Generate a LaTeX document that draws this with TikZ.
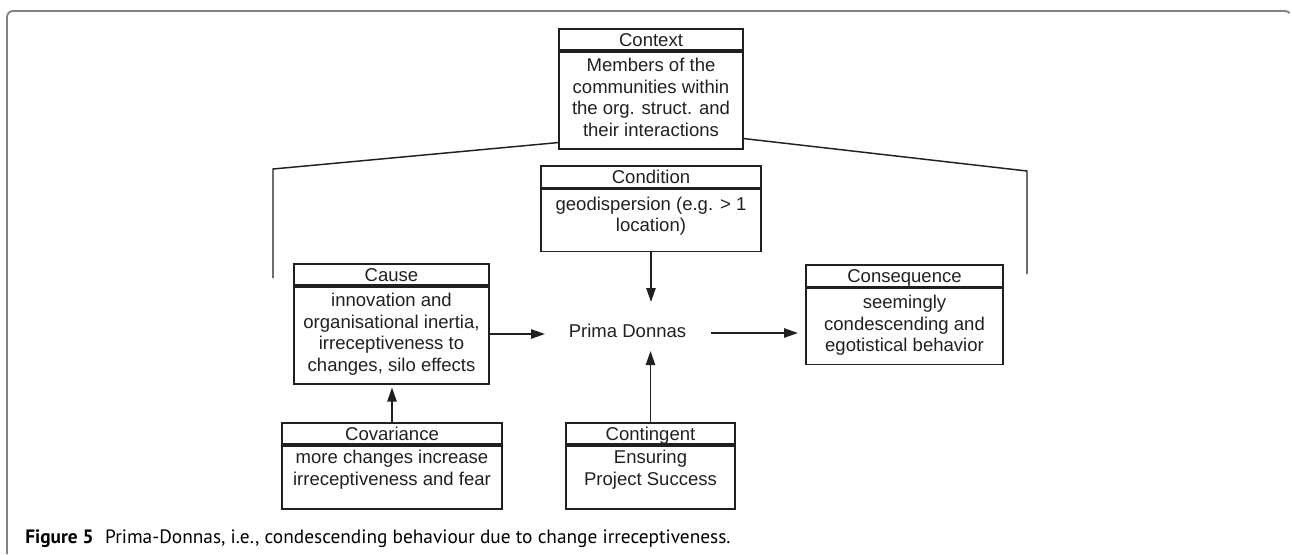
\documentclass[tikz,border=0pt]{standalone}
\usepackage{fontspec}
\setmainfont{Liberation Sans}
\newfontfamily\capfont{PT Sans}
\usetikzlibrary{arrows.meta,calc}
\definecolor{ink}{RGB}{35,31,32}
\definecolor{framegray}{RGB}{130,130,130}
\newcommand\bodytext[4]{\parbox[t][#1][t]{#2}{\centering\vspace*{#3}\rule{0pt}{10pt}#4\par}}
\begin{document}
\begin{tikzpicture}[x=0.75pt,y=-0.75pt,
  every node/.style={text=ink},
  txt/.style={font=\fontsize{13.9pt}{16.1pt}\selectfont},
  ttl/.style={txt, draw=ink, line width=1.2pt, inner sep=0pt, text height=9.9pt, text depth=0pt, minimum height=16pt},
  bdy/.style={txt, draw=ink, line width=1.2pt, inner sep=0pt, anchor=north},
  arr/.style={draw=ink, line width=1.1pt, -{Triangle[length=10.5pt,width=7pt]}},
  link/.style={draw=ink, line width=1.1pt}]
\useasboundingbox (0,0) rectangle (1292,554);
% frame
\draw[framegray, line width=1.4pt] (7,554) -- (7,17) arc[start angle=180,end angle=90,radius=4.5pt] -- (1285,11) arc[start angle=90,end angle=40,radius=4.5pt];
% Context
\node[ttl, minimum width=138pt] (ctx-t) at (651,39.5) {Context};
\node[bdy] (ctx-b) at (ctx-t.south) {\bodytext{72.75pt}{138pt}{5pt}{Members of the\\ communities within\\ the org. struct. and\\ their interactions}};
% Condition
\node[ttl, minimum width=165pt, minimum height=16.5pt] (cond-t) at (651,177) {Condition};
\node[bdy] (cond-b) at (cond-t.south) {\bodytext{46.5pt}{165pt}{5.6pt}{geodispersion (e.g. > 1\\ location)}};
% Cause
\node[ttl, minimum width=146.25pt] (cau-t) at (391.5,274.5) {Cause};
\node[bdy] (cau-b) at (cau-t.south) {\bodytext{72.75pt}{146.25pt}{5pt}{innovation and\\ organisational inertia,\\ irreceptiveness to\\ changes, silo effects}};
% Consequence
\node[ttl, minimum width=147.75pt, minimum height=16.5pt] (cons-t) at (904.5,276) {Consequence};
\node[bdy] (cons-b) at (cons-t.south) {\bodytext{57pt}{147.75pt}{5pt}{seemingly\\ condescending and\\ egotistical behavior}};
% Covariance
\node[ttl, minimum width=165pt] (cov-t) at (392,433.5) {Covariance};
\node[bdy] (cov-b) at (cov-t.south) {\bodytext{47.25pt}{165pt}{3.5pt}{more changes increase\\ irreceptiveness and fear}};
% Contingent
\node[ttl, minimum width=126.75pt] (cont-t) at (650.5,433.5) {Contingent};
\node[bdy] (cont-b) at (cont-t.south) {\bodytext{47.25pt}{126.75pt}{3.5pt}{Ensuring\\ Project Success}};
% central phenomenon
\node[txt, inner sep=0pt] (pd) at (627.5,331) {Prima Donnas};
% free ends
\coordinate (pdtop) at (651,302);
\coordinate (pdbot) at (650.5,351);
\coordinate (pdleft) at (545,334);
\coordinate (pdright) at (711,333);
\coordinate (consin) at (798,333);
\coordinate (lcorner) at (273,169);
\coordinate (lend) at (273,278);
\coordinate (rcorner) at (1027,171);
\coordinate (rend) at (1027,274);
% brackets from context
\draw[link] ($(ctx-b.south west)+(0,-7)$) -- (lcorner) -- (lend);
\draw[link] ($(ctx-b.south east)+(0,-11)$) -- (rcorner) -- (rend);
% arrows
\draw[arr] (cond-b.south) -- (pdtop);
\draw[arr] (cont-t.north) -- (pdbot);
\draw[arr] (cau-b.east |- pdleft) -- (pdleft);
\draw[arr] (pdright) -- (consin);
\draw[arr] (cov-t.north) -- ($(cau-b.south)+(0.5,3)$);
% caption
\node[anchor=base west, inner sep=0pt, text=black, font=\capfont\fontsize{14.5pt}{17pt}\selectfont] (cap) at (25,543) {\textbf{Figure 5}\hspace{0.6em}Prima-Donnas, i.e., condescending behaviour due to change irreceptiveness.};
\end{tikzpicture}
\end{document}
